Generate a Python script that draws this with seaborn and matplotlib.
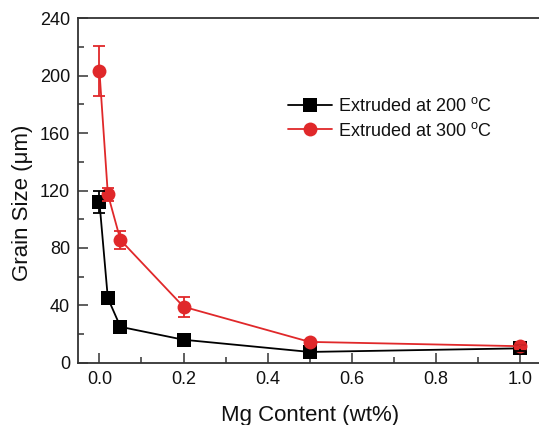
import numpy as np
import pandas as pd
import matplotlib
matplotlib.use("Agg")
import matplotlib.pyplot as plt
import seaborn as sns
from matplotlib.ticker import MultipleLocator

# data
mg_content = [0.0, 0.02, 0.05, 0.2, 0.5, 1.0]
grain_200 = [112, 45, 25, 16, 7.5, 10]
err_200 = [8, 3, 2, 2, 1, 2]
grain_300 = [203.5, 117.5, 85.5, 39, 14.5, 11.5]
err_300 = [17.5, 4.5, 6, 7, 1.5, 1]
labels = [r"Extruded at 200 $^{\mathrm{o}}$C", r"Extruded at 300 $^{\mathrm{o}}$C"]

sns.set_style("ticks")
plt.rcParams["font.family"] = ["Liberation Sans", "DejaVu Sans"]
plt.rcParams["mathtext.fontset"] = "custom"
plt.rcParams["mathtext.rm"] = "Liberation Sans"
plt.rcParams["text.color"] = "#111111"
plt.rcParams["axes.labelcolor"] = "#111111"
plt.rcParams["xtick.labelcolor"] = "#111111"
plt.rcParams["ytick.labelcolor"] = "#111111"

RED = "#e0282a"
SPINE = "#333333"

df = pd.DataFrame({
    "mg": mg_content * 2,
    "size": grain_200 + grain_300,
    "series": [labels[0]] * len(mg_content) + [labels[1]] * len(mg_content),
})

fig = plt.figure(figsize=(5.39, 4.25), dpi=100)
ax = fig.add_axes([78.4 / 539, 62.3 / 425, (1.1 * 420.5) / 539, (362.7 - 18.3) / 425])

sns.lineplot(data=df, x="mg", y="size", hue="series", style="series",
             palette=["black", RED], markers=["s", "o"], dashes=False,
             markersize=10, markeredgewidth=0, linewidth=1.3, ax=ax, zorder=3)

ax.errorbar(mg_content, grain_200, yerr=err_200, fmt="none", ecolor="black",
            elinewidth=1.3, capsize=4, capthick=1.3, zorder=5)
ax.errorbar(mg_content, grain_300, yerr=err_300, fmt="none", ecolor=RED,
            elinewidth=1.3, capsize=4, capthick=1.3, zorder=5)

ax.set_xlim(-0.05, 1.05)
ax.set_ylim(0, 240)
ax.xaxis.set_major_locator(MultipleLocator(0.2))
ax.xaxis.set_minor_locator(MultipleLocator(0.1))
ax.yaxis.set_major_locator(MultipleLocator(40))
ax.yaxis.set_minor_locator(MultipleLocator(20))
ax.tick_params(which="both", direction="in", color=SPINE, width=1.1,
               labelsize=13, top=False, right=False)
ax.tick_params(which="major", length=7, pad=6)
ax.tick_params(which="minor", length=4)
ax.set_xticklabels([f"{v:.1f}" for v in ax.get_xticks()])
for s in ax.spines.values():
    s.set_color(SPINE)
    s.set_linewidth(1.3)
ax.spines["right"].set_visible(False)

ax.set_xlabel("Mg Content (wt%)", fontsize=16, labelpad=12)
ax.set_ylabel("Grain Size (μm)", fontsize=16)
ax.yaxis.set_label_coords(-0.098, 0.464)

leg = ax.legend(loc="upper left", bbox_to_anchor=(0.453, 0.772), frameon=False,
                fontsize=13, handlelength=2.45, handletextpad=0.3,
                labelspacing=0.38, borderaxespad=0, borderpad=0)
for h in leg.legend_handles:
    h.set_markersize(10)

fig.savefig("out.png", dpi=100)
